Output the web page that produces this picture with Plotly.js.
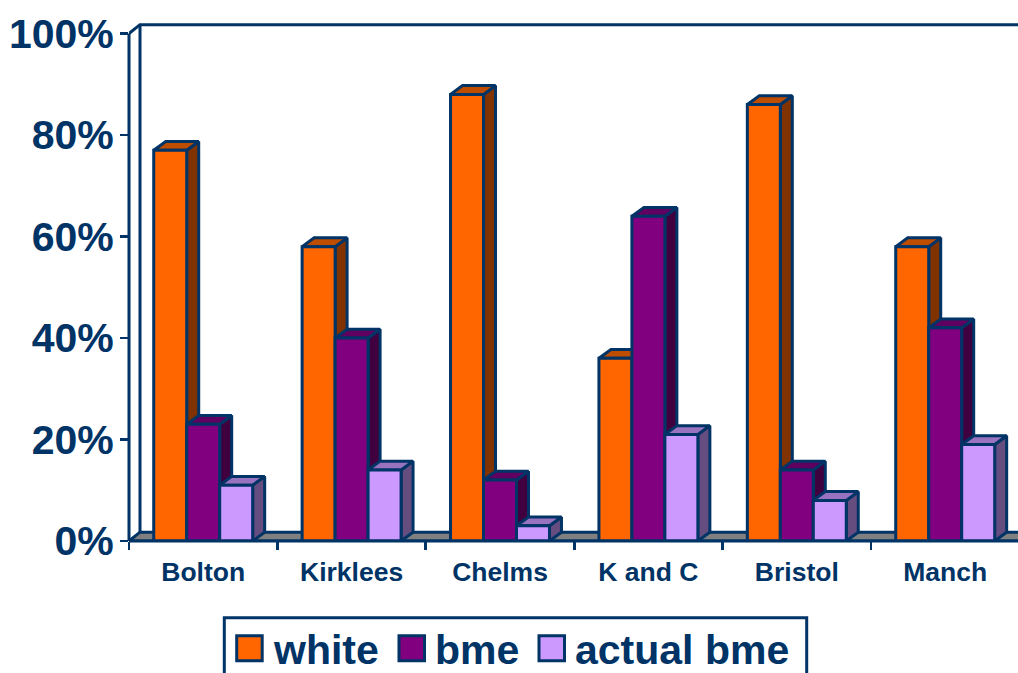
<!DOCTYPE html>
<html><head><meta charset="utf-8">
<script src="https://cdn.plot.ly/plotly-3.0.1.min.js"></script>
<style>html,body{margin:0;padding:0;background:#fff;overflow:hidden}</style>
</head><body><div id="chart" style="width:1018px;height:673px"></div>
<script>
const categories = ["Bolton","Kirklees","Chelms","K and C","Bristol","Manch"];
const white = [77,58,88,36,86,58];
const bme = [23,40,12,64,14,42];
const actualBme = [11,14,3,21,8,19];
const seriesNames = ["white","bme","actual bme"];
const yTickVals = [0,20,40,60,80,100];
const yTickText = ["0%","20%","40%","60%","80%","100%"];

const W=1018,H=673,L=129,T=0,PB=541;
const pxPerCat=148.4,pxPerPct=5.075;
const INK="#003366",LW=3;
const xr=[0,(W-L)/pxPerCat],yr=[0,(PB-T)/pxPerPct];
const dx=12/pxPerCat, dy=8.8/pxPerPct, wallDx=11/pxPerCat;
const barW=1/4.5;
const series=[white,bme,actualBme];
const fronts=["#FF6600","#800080","#CC99FF"];
const tops=["#BF4D00","#600060","#9973BF"];
const sides=["#803300","#400040","#664D80"];
const centers=categories.map((_,i)=>i+0.5);

function poly(xs,ys,fill){
  return {type:"scatter",mode:"lines",x:xs,y:ys,fill:"toself",fillcolor:fill,
    line:{color:INK,width:LW},hoverinfo:"skip",showlegend:false,cliponaxis:false};
}
function path(xs,ys){
  return {type:"scatter",mode:"lines",x:xs,y:ys,line:{color:INK,width:LW},
    hoverinfo:"skip",showlegend:false,cliponaxis:false};
}
const traces=[];
// walls and floor
traces.push(poly([0,wallDx,xr[1]+1,xr[1]+1,0],[0,dy,dy,0,0],"#808080"));
traces.push(path([0,wallDx,xr[1]+1],[100,100+dy,100+dy]));
traces.push(path([wallDx,wallDx],[dy,100+dy]));
// side faces
series.forEach((vals,s)=>{
  vals.forEach((v,i)=>{
    const x1=centers[i]-1.5*barW+(s+1)*barW;
    traces.push(poly([x1,x1+dx,x1+dx,x1,x1],[0,dy,v+dy,v,0],sides[s]));
  });
});
// top faces
series.forEach((vals,s)=>{
  vals.forEach((v,i)=>{
    const x0=centers[i]-1.5*barW+s*barW, x1=x0+barW;
    traces.push(poly([x0,x0+dx,x1+dx,x1,x0],[v,v+dy,v+dy,v,v],tops[s]));
  });
});
// front faces: real grouped bars on an overlay subplot
series.forEach((vals,s)=>{
  traces.push({type:"bar",name:seriesNames[s],x:centers,y:vals,xaxis:"x2",yaxis:"y2",
    marker:{color:fronts[s],line:{color:INK,width:LW}},cliponaxis:false,showlegend:false});
});

// legend built in page pixels
const px=x=>(x-L)/(W-L), py=y=>(PB-y)/(PB-T);
const swatchX=[236.7,399,539], textX=[274,436,576];
const shapes=[
  {type:"line",xref:"paper",yref:"y",x0:0,x1:0,y0:0,y1:100,line:{color:INK,width:LW},layer:"above"},
  {type:"line",xref:"x",yref:"paper",x0:0,x1:xr[1],y0:0,y1:0,line:{color:INK,width:LW},layer:"above"},
  {type:"rect",xref:"paper",yref:"paper",x0:px(224.3),x1:px(806.7),y0:py(690),y1:py(617.7),
  line:{color:INK,width:LW},fillcolor:"rgba(0,0,0,0)"}];
const annotations=[];
seriesNames.forEach((n,s)=>{
  shapes.push({type:"rect",xref:"paper",yref:"paper",x0:px(swatchX[s]),x1:px(swatchX[s]+25.5),y0:py(660.7),y1:py(635.7),
    line:{color:INK,width:LW},fillcolor:fronts[s]});
  annotations.push({text:n,xref:"paper",yref:"paper",x:px(textX[s]),y:py(650),xanchor:"left",yanchor:"middle",
    showarrow:false,xshift:-3,font:{family:"Liberation Sans, Arial, sans-serif",size:41,color:INK,weight:"bold"}});
});

const layout={
  width:W,height:H,margin:{l:L,r:0,t:T,b:H-PB,pad:0},
  paper_bgcolor:"#fff",plot_bgcolor:"#fff",showlegend:false,
  barmode:"group",bargap:1/3,bargroupgap:0,
  font:{family:"Liberation Sans, Arial, sans-serif",color:INK},
  xaxis:{range:xr,tickmode:"array",tickvals:centers,ticktext:categories,ticks:"",showgrid:false,zeroline:false,showline:false,
    tickfont:{size:26.5,color:INK,weight:"bold"},ticklabelstandoff:12,
    minor:{tickmode:"array",tickvals:[0,1,2,3,4,5,6],ticks:"outside",ticklen:8,tickwidth:2.6,tickcolor:INK,showgrid:false}},
  yaxis:{range:yr,tickmode:"array",tickvals:yTickVals,ticktext:yTickText,ticks:"outside",ticklen:8,tickwidth:2.6,tickcolor:INK,
    showgrid:false,zeroline:false,showline:false,tickfont:{size:41,color:INK,weight:"bold"},ticklabelstandoff:-2},
  xaxis2:{range:xr,overlaying:"x",visible:false,fixedrange:true},
  yaxis2:{range:yr,overlaying:"y",visible:false,fixedrange:true},
  shapes,annotations
};
Plotly.newPlot("chart",traces,layout,{displayModeBar:false,staticPlot:true});
</script></body></html>
